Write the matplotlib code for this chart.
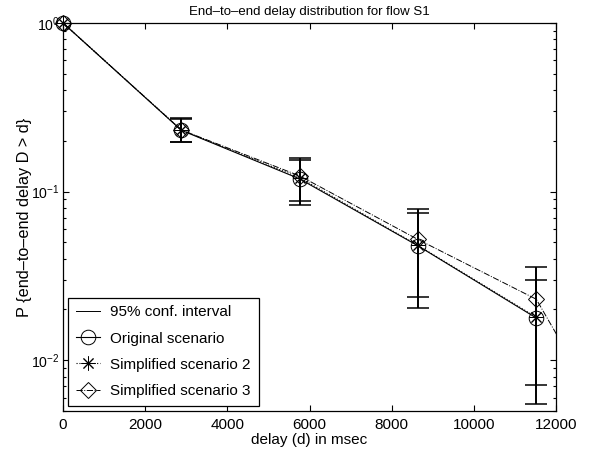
import matplotlib
matplotlib.use("Agg")
import numpy as np
import matplotlib.pyplot as plt
from matplotlib.ticker import FixedLocator, LogLocator, NullFormatter

plt.rcParams['font.family'] = ['Liberation Sans', 'DejaVu Sans']
plt.rcParams['mathtext.fontset'] = 'custom'
plt.rcParams['mathtext.rm'] = 'Liberation Sans'
plt.rcParams['mathtext.it'] = 'Liberation Sans:italic'
plt.rcParams['mathtext.default'] = 'regular'

# delay bins (msec)
delay = [0, 2880, 5760, 8640, 11520]
delay_s3 = [0, 2880, 5760, 8640, 11520, 14400]

# P{D > d}
original = [1.0, 0.231, 0.119, 0.0477, 0.0178]
simplified2 = [1.0, 0.232, 0.121, 0.0480, 0.0180]
simplified3 = [1.0, 0.232, 0.124, 0.0520, 0.0230, 0.0014]

# 95% confidence intervals (two sets)
ci_x = [2880, 5760, 8640, 11520]
ci_a_lo = [0.196, 0.0837, 0.0204, 0.0055]
ci_a_hi = [0.272, 0.159, 0.0792, 0.0358]
ci_b_lo = [0.197, 0.0884, 0.0237, 0.0071]
ci_b_hi = [0.270, 0.155, 0.0750, 0.0299]

legend_labels = ["95% conf. interval", "Original scenario",
                 "Simplified scenario 2", "Simplified scenario 3"]


def main():
    fig = plt.figure(figsize=(5.9, 4.55), dpi=100)
    ax = fig.add_axes([0.1068, 0.0967, 0.8356, 0.8528])

    # confidence intervals
    for lo, hi in ((ci_a_lo, ci_a_hi), (ci_b_lo, ci_b_hi)):
        lo = np.array(lo)
        hi = np.array(hi)
        mid = np.sqrt(lo * hi)
        ax.errorbar(ci_x, mid, yerr=[mid - lo, hi - mid], fmt='none',
                    ecolor='black', elinewidth=1.4, capsize=7.9,
                    capthick=1.1, zorder=2)

    h_ci, = ax.plot([], [], '-', color='black', lw=0.7)
    h_o, = ax.plot(delay, original, '-', color='black', lw=0.8,
                   marker='o', ms=10.5, mfc='none', mec='black', mew=0.7,
                   zorder=3)
    h_2, = ax.plot(delay, simplified2, ':', color='black', lw=0.8,
                   marker=(8, 2, 0), ms=10, mec='black', mew=0.7, zorder=3)
    h_3, = ax.plot(delay_s3, simplified3, '-.', color='black', lw=0.7,
                   marker='D', ms=8, mfc='none', mec='black', mew=0.7,
                   zorder=3)
    # markers at d = 0 sit on the frame; let them show in full
    for h in (h_o, h_2, h_3):
        ax.plot(delay[:1], [original[0]], linestyle='none',
                marker=h.get_marker(), ms=h.get_markersize(), mfc='none',
                mec='black', mew=0.7, clip_on=False, zorder=4)

    ax.set_yscale('log')
    ax.set_xlim(0, 12000)
    ax.set_ylim(0.005, 1)
    ax.xaxis.set_major_locator(FixedLocator(range(0, 12001, 2000)))
    ax.yaxis.set_major_locator(LogLocator(base=10))
    ax.yaxis.set_minor_locator(LogLocator(base=10, subs=np.arange(2, 10)))
    ax.yaxis.set_minor_formatter(NullFormatter())

    ax.tick_params(which='both', direction='in', top=True, right=True,
                   width=0.8, colors='black')
    ax.tick_params(which='major', length=4.5)
    ax.tick_params(which='minor', length=2.5)
    ax.tick_params(axis='x', labelsize=11, pad=5)
    ax.tick_params(axis='y', labelsize=10.2, pad=2.5)
    for sp in ax.spines.values():
        sp.set_linewidth(0.9)

    ax.set_title("End\u2013to\u2013end delay distribution for flow S1",
                 fontsize=9.5, pad=6)
    ax.set_xlabel("delay (d) in msec", fontsize=11, labelpad=1)
    ax.set_ylabel("P {end\u2013to\u2013end delay D > d}", fontsize=11.7,
                  labelpad=-0.5)

    leg = ax.legend([h_ci, h_o, h_2, h_3], legend_labels, loc='lower left',
                    fontsize=11, fancybox=False, framealpha=1,
                    edgecolor='black', borderaxespad=0.35, borderpad=0.5,
                    labelspacing=0.8, handlelength=1.6, handletextpad=0.65)
    leg.get_frame().set_linewidth(0.9)

    fig.savefig('out.png', dpi=100)


if __name__ == '__main__':
    main()
